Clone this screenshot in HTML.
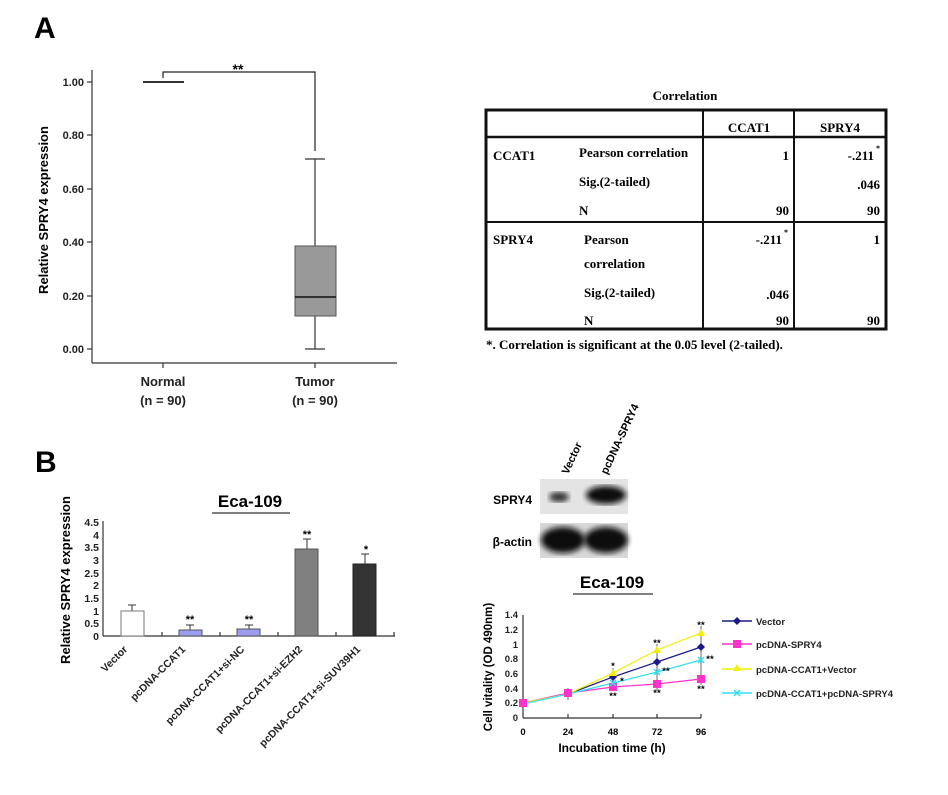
<!DOCTYPE html>
<html><head><meta charset="utf-8"><style>body{margin:0;background:#fff}svg{display:block}</style></head><body>
<svg width="948" height="795" viewBox="0 0 948 795" xmlns="http://www.w3.org/2000/svg" font-family="Liberation Sans, Arial, sans-serif" font-weight="bold">
<!-- Panel A -->
<text x="34" y="38" font-size="30">A</text>
<g stroke="#333" stroke-width="1.2" fill="none">
<line x1="92" y1="70" x2="92" y2="363"/><line x1="92" y1="363" x2="397" y2="363"/>
<line x1="87" y1="82" x2="92" y2="82"/><line x1="87" y1="135" x2="92" y2="135"/><line x1="87" y1="189" x2="92" y2="189"/><line x1="87" y1="242" x2="92" y2="242"/><line x1="87" y1="296" x2="92" y2="296"/><line x1="87" y1="349" x2="92" y2="349"/>
<line x1="163" y1="363" x2="163" y2="368"/><line x1="315" y1="363" x2="315" y2="368"/>
</g>
<g font-size="11" text-anchor="end" fill="#222"><text x="84" y="86">1.00</text><text x="84" y="139">0.80</text><text x="84" y="193">0.60</text><text x="84" y="246">0.40</text><text x="84" y="300">0.20</text><text x="84" y="353">0.00</text></g>
<text transform="translate(48,210) rotate(-90)" font-size="13" text-anchor="middle">Relative SPRY4 expression</text>
<line x1="143" y1="82" x2="184" y2="82" stroke="#333" stroke-width="2"/>
<polyline points="163,78 163,72 315,72 315,151" fill="none" stroke="#222" stroke-width="1.2"/>
<text x="238" y="74" font-size="14" text-anchor="middle">**</text>
<g stroke="#333" stroke-width="1.2"><line x1="315" y1="159" x2="315" y2="246"/><line x1="315" y1="316" x2="315" y2="349"/><line x1="305" y1="159" x2="325" y2="159"/><line x1="305" y1="349" x2="325" y2="349"/></g>
<rect x="295" y="246" width="41" height="70" fill="#999" stroke="#555" stroke-width="1"/>
<line x1="295" y1="297" x2="336" y2="297" stroke="#111" stroke-width="1.5"/>
<g font-size="13" text-anchor="middle" fill="#222"><text x="163" y="386">Normal</text><text x="163" y="405">(n = 90)</text><text x="315" y="386">Tumor</text><text x="315" y="405">(n = 90)</text></g>
<!-- Table -->
<g font-family="Liberation Serif, serif" font-size="13">
<text x="685" y="100" text-anchor="middle">Correlation</text>
<rect x="486" y="110" width="400" height="219" fill="none" stroke="#111" stroke-width="3"/>
<line x1="703" y1="110" x2="703" y2="329" stroke="#111" stroke-width="2"/><line x1="794" y1="110" x2="794" y2="329" stroke="#111" stroke-width="2"/>
<line x1="486" y1="137" x2="886" y2="137" stroke="#111" stroke-width="2.5"/><line x1="486" y1="222" x2="886" y2="222" stroke="#111" stroke-width="2"/>
<text x="749" y="132" text-anchor="middle">CCAT1</text><text x="840" y="132" text-anchor="middle">SPRY4</text>
<text x="493" y="160">CCAT1</text><text x="579" y="157">Pearson correlation</text><text x="579" y="186">Sig.(2-tailed)</text><text x="579" y="215">N</text>
<text x="789" y="160" text-anchor="end">1</text><text x="874" y="160" text-anchor="end">-.211</text><text x="876" y="151" font-size="8">*</text>
<text x="880" y="189" text-anchor="end">.046</text><text x="789" y="215" text-anchor="end">90</text><text x="880" y="215" text-anchor="end">90</text>
<text x="493" y="244">SPRY4</text><text x="584" y="244">Pearson</text><text x="584" y="268">correlation</text><text x="584" y="297">Sig.(2-tailed)</text><text x="584" y="325">N</text>
<text x="782" y="244" text-anchor="end">-.211</text><text x="784" y="235" font-size="8">*</text><text x="880" y="244" text-anchor="end">1</text>
<text x="789" y="299" text-anchor="end">.046</text><text x="789" y="325" text-anchor="end">90</text><text x="880" y="325" text-anchor="end">90</text>
<text x="486" y="349">*. Correlation is significant at the 0.05 level (2-tailed).</text>
</g>
<!-- Panel B bars -->
<text x="35" y="472" font-size="30">B</text>
<text x="250" y="507" font-size="17" text-anchor="middle">Eca-109</text>
<line x1="212" y1="513" x2="290" y2="513" stroke="#333" stroke-width="1.2"/>
<text transform="translate(70,580) rotate(-90)" font-size="13" text-anchor="middle">Relative SPRY4 expression</text>
<g stroke="#333" stroke-width="1.2"><line x1="103" y1="521" x2="103" y2="636"/><line x1="103" y1="636" x2="395" y2="636"/>
<line x1="162" y1="632" x2="162" y2="636"/><line x1="220" y1="632" x2="220" y2="636"/><line x1="278" y1="632" x2="278" y2="636"/><line x1="336" y1="632" x2="336" y2="636"/><line x1="394" y1="632" x2="394" y2="636"/></g>
<g font-size="10.5" text-anchor="end" fill="#222"><text x="99" y="526">4.5</text><text x="99" y="539">4</text><text x="99" y="551">3.5</text><text x="99" y="564">3</text><text x="99" y="577">2.5</text><text x="99" y="589">2</text><text x="99" y="602">1.5</text><text x="99" y="615">1</text><text x="99" y="627">0.5</text><text x="99" y="640">0</text></g>
<g stroke="#333" stroke-width="1"><line x1="132" y1="611" x2="132" y2="605"/><line x1="128" y1="605" x2="136" y2="605"/>
<line x1="190" y1="630" x2="190" y2="625"/><line x1="186" y1="625" x2="194" y2="625"/>
<line x1="249" y1="629" x2="249" y2="625"/><line x1="245" y1="625" x2="253" y2="625"/>
<line x1="307" y1="549" x2="307" y2="539"/><line x1="303" y1="539" x2="311" y2="539"/>
<line x1="365" y1="564" x2="365" y2="554"/><line x1="361" y1="554" x2="369" y2="554"/></g>
<rect x="121" y="611" width="23" height="25" fill="#fff" stroke="#777"/>
<rect x="179" y="630" width="23" height="6" fill="#9c9cf0" stroke="#555"/>
<rect x="237" y="629" width="23" height="7" fill="#9c9cf0" stroke="#555"/>
<rect x="295" y="549" width="23" height="87" fill="#808080" stroke="#555"/>
<rect x="353" y="564" width="23" height="72" fill="#333" stroke="#222"/>
<g font-size="11" text-anchor="middle"><text x="190" y="623">**</text><text x="249" y="623">**</text><text x="307" y="538">**</text><text x="366" y="553">*</text></g>
<g font-size="10.5" text-anchor="end" fill="#222">
<text transform="translate(128,650) rotate(-45)">Vector</text>
<text transform="translate(186,650) rotate(-45)">pcDNA-CCAT1</text>
<text transform="translate(245,650) rotate(-45)">pcDNA-CCAT1+si-NC</text>
<text transform="translate(303,650) rotate(-45)">pcDNA-CCAT1+si-EZH2</text>
<text transform="translate(361,650) rotate(-45)">pcDNA-CCAT1+si-SUV39H1</text></g>
<!-- Blot -->
<g font-size="11"><text transform="translate(568,475) rotate(-65)">Vector</text><text transform="translate(607,475) rotate(-65)">pcDNA-SPRY4</text></g>
<text x="532" y="504" font-size="12" text-anchor="end">SPRY4</text><text x="532" y="546" font-size="12" text-anchor="end">β-actin</text>
<defs><filter id="bl"><feGaussianBlur stdDeviation="3"/></filter></defs>
<rect x="540" y="479" width="88" height="35" fill="#e4e4e4"/>
<ellipse cx="559" cy="497" rx="10" ry="5" fill="#333" filter="url(#bl)"/>
<ellipse cx="606" cy="495" rx="20" ry="9" fill="#111" filter="url(#bl)"/>
<rect x="540" y="523" width="88" height="35" fill="#d8d8d8"/>
<ellipse cx="563" cy="540" rx="22" ry="13" fill="#111" filter="url(#bl)"/>
<ellipse cx="606" cy="540" rx="22" ry="13" fill="#111" filter="url(#bl)"/>
<!-- Line chart -->
<text x="612" y="588" font-size="17" text-anchor="middle">Eca-109</text>
<line x1="573" y1="594" x2="653" y2="594" stroke="#333" stroke-width="1.2"/>
<text transform="translate(492,667) rotate(-90)" font-size="11.5" text-anchor="middle">Cell vitality (OD 490nm)</text>
<text x="612" y="752" font-size="12" text-anchor="middle">Incubation time (h)</text>
<g stroke="#333" stroke-width="1.2"><line x1="523" y1="615" x2="523" y2="718"/><line x1="523" y1="718" x2="701" y2="718"/>
<line x1="568" y1="718" x2="568" y2="714"/><line x1="613" y1="718" x2="613" y2="714"/><line x1="657" y1="718" x2="657" y2="714"/><line x1="701" y1="718" x2="701" y2="714"/></g>
<g font-size="9.5" text-anchor="end" fill="#222"><text x="518" y="618">1.4</text><text x="518" y="633">1.2</text><text x="518" y="648">1</text><text x="518" y="662">0.8</text><text x="518" y="677">0.6</text><text x="518" y="692">0.4</text><text x="518" y="706">0.2</text><text x="518" y="721">0</text></g>
<g font-size="9.5" text-anchor="middle"><text x="523" y="735">0</text><text x="568" y="735">24</text><text x="613" y="735">48</text><text x="657" y="735">72</text><text x="701" y="735">96</text></g>
<g fill="none" stroke-width="1.2">
<polyline points="523,703 568,694 613,677 657,662 701,647" stroke="#1a1a8c"/>
<polyline points="523,703 568,693 613,687 657,684 701,679" stroke="#ff33cc"/>
<polyline points="523,703 568,694 613,673 657,650 701,633" stroke="#f0f000"/>
<polyline points="523,704 568,694 613,683 657,672 701,660" stroke="#33e0f0"/>
</g>
<g stroke="#444" stroke-width="0.8"><line x1="613" y1="668" x2="613" y2="690"/><line x1="657" y1="644" x2="657" y2="690"/><line x1="701" y1="626" x2="701" y2="685"/><line x1="568" y1="688" x2="568" y2="700"/></g>
<g fill="#1a1a8c"><path d="M613,673 l4,4 -4,4 -4,-4z"/><path d="M657,658 l4,4 -4,4 -4,-4z"/><path d="M701,643 l4,4 -4,4 -4,-4z"/></g>
<g fill="#ff33cc"><rect x="609" y="683" width="8" height="8"/><rect x="653" y="680" width="8" height="8"/><rect x="697" y="675" width="8" height="8"/><rect x="564" y="689" width="8" height="8"/><rect x="519" y="699" width="8" height="8"/></g>
<g fill="#f0f000"><path d="M613,669 l4,7 -8,0z"/><path d="M657,646 l4,7 -8,0z"/><path d="M701,629 l4,7 -8,0z"/></g>
<g stroke="#33e0f0" stroke-width="1.5"><path d="M610,680 l6,6 M616,680 l-6,6"/><path d="M654,669 l6,6 M660,669 l-6,6"/><path d="M698,657 l6,6 M704,657 l-6,6"/></g>
<g font-size="9.5" text-anchor="middle"><text x="613" y="669">*</text><text x="657" y="646">**</text><text x="701" y="628">**</text><text x="613" y="699">**</text><text x="657" y="696">**</text><text x="701" y="692">**</text><text x="622" y="684">*</text><text x="666" y="674">**</text><text x="710" y="662">**</text></g>
<g font-size="9.5" fill="#222">
<line x1="722" y1="621" x2="752" y2="621" stroke="#1a1a8c" stroke-width="1.5"/><path d="M737,617 l4,4 -4,4 -4,-4z" fill="#1a1a8c"/><text x="756" y="625">Vector</text>
<line x1="722" y1="644" x2="752" y2="644" stroke="#ff33cc" stroke-width="1.5"/><rect x="733" y="640" width="8" height="8" fill="#ff33cc"/><text x="756" y="648">pcDNA-SPRY4</text>
<line x1="722" y1="669" x2="752" y2="669" stroke="#f0f000" stroke-width="1.5"/><path d="M737,664 l4,7 -8,0z" fill="#f0f000"/><text x="756" y="673">pcDNA-CCAT1+Vector</text>
<line x1="722" y1="693" x2="752" y2="693" stroke="#33e0f0" stroke-width="1.5"/><path d="M734,690 l6,6 M740,690 l-6,6" stroke="#33e0f0" stroke-width="1.5"/><text x="756" y="697">pcDNA-CCAT1+pcDNA-SPRY4</text>
</g>
</svg>
</body></html>
